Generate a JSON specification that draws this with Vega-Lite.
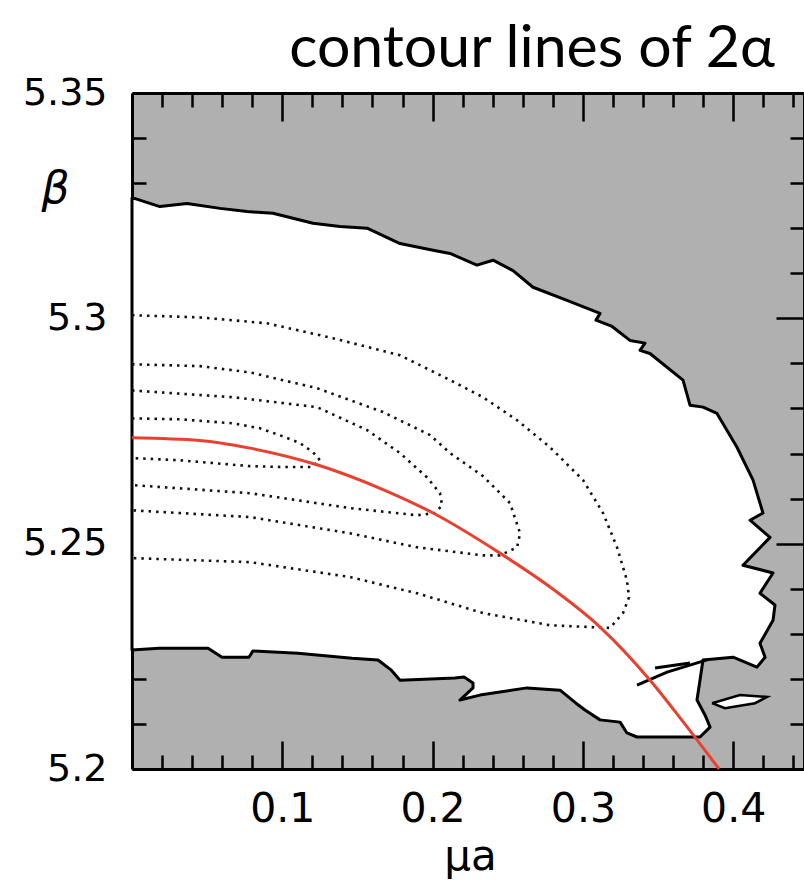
{
  "$schema": "https://vega.github.io/schema/vega-lite/v6.json",
  "width": 672,
  "height": 676,
  "autosize": {"type": "none"},
  "padding": {"left": 132, "top": 93, "right": 0, "bottom": 111},
  "background": "white",
  "view": {"fill": "#b0b0b0", "stroke": null},
  "title": {
    "text": "contour lines of 2α",
    "font": "Lato",
    "fontSize": 59,
    "fontWeight": "normal",
    "color": "black",
    "anchor": "end",
    "frame": "group",
    "baseline": "alphabetic",
    "offset": 27,
    "dx": -29,
    "dy": 79
  },
  "datasets": {
    "blob": [
      {"i": 1, "x": 0, "y": 5.3268}, {"i": 2, "x": 0.0186, "y": 5.3248}, {"i": 3, "x": 0.0366, "y": 5.3255},
      {"i": 4, "x": 0.0586, "y": 5.3244}, {"i": 5, "x": 0.0765, "y": 5.3237}, {"i": 6, "x": 0.0938, "y": 5.3233},
      {"i": 7, "x": 0.1204, "y": 5.3211}, {"i": 8, "x": 0.1384, "y": 5.3204}, {"i": 9, "x": 0.1564, "y": 5.32},
      {"i": 10, "x": 0.1783, "y": 5.3166}, {"i": 11, "x": 0.2003, "y": 5.3151}, {"i": 12, "x": 0.2116, "y": 5.3144},
      {"i": 13, "x": 0.2295, "y": 5.3118}, {"i": 14, "x": 0.2402, "y": 5.3129}, {"i": 15, "x": 0.2535, "y": 5.3106},
      {"i": 16, "x": 0.2668, "y": 5.3069}, {"i": 17, "x": 0.2894, "y": 5.304}, {"i": 18, "x": 0.3114, "y": 5.3011},
      {"i": 19, "x": 0.3087, "y": 5.2996}, {"i": 20, "x": 0.3194, "y": 5.2982}, {"i": 21, "x": 0.3313, "y": 5.2951},
      {"i": 22, "x": 0.3413, "y": 5.2945}, {"i": 23, "x": 0.338, "y": 5.2929}, {"i": 24, "x": 0.3446, "y": 5.2922},
      {"i": 25, "x": 0.3666, "y": 5.2863}, {"i": 26, "x": 0.3713, "y": 5.2807}, {"i": 27, "x": 0.3799, "y": 5.2803},
      {"i": 28, "x": 0.3892, "y": 5.2789}, {"i": 29, "x": 0.4025, "y": 5.2714}, {"i": 30, "x": 0.4132, "y": 5.2641},
      {"i": 31, "x": 0.4198, "y": 5.2568}, {"i": 32, "x": 0.4112, "y": 5.2552}, {"i": 33, "x": 0.4245, "y": 5.2514},
      {"i": 34, "x": 0.4065, "y": 5.2452}, {"i": 35, "x": 0.4265, "y": 5.2435}, {"i": 36, "x": 0.4178, "y": 5.239},
      {"i": 37, "x": 0.4278, "y": 5.2364}, {"i": 38, "x": 0.4265, "y": 5.233}, {"i": 39, "x": 0.4178, "y": 5.2279},
      {"i": 40, "x": 0.4212, "y": 5.2248}, {"i": 41, "x": 0.4158, "y": 5.2226}, {"i": 42, "x": 0.3999, "y": 5.2248},
      {"i": 43, "x": 0.3799, "y": 5.2242}, {"i": 44, "x": 0.3779, "y": 5.2197}, {"i": 45, "x": 0.3759, "y": 5.2153},
      {"i": 46, "x": 0.3812, "y": 5.212}, {"i": 47, "x": 0.3846, "y": 5.2093}, {"i": 48, "x": 0.3779, "y": 5.2071},
      {"i": 49, "x": 0.336, "y": 5.2071}, {"i": 50, "x": 0.3293, "y": 5.208}, {"i": 51, "x": 0.3247, "y": 5.2104},
      {"i": 52, "x": 0.3114, "y": 5.2109}, {"i": 53, "x": 0.3014, "y": 5.2131}, {"i": 54, "x": 0.2954, "y": 5.2146},
      {"i": 55, "x": 0.2848, "y": 5.2175}, {"i": 56, "x": 0.2628, "y": 5.218}, {"i": 57, "x": 0.2315, "y": 5.2164},
      {"i": 58, "x": 0.2182, "y": 5.2153}, {"i": 59, "x": 0.2269, "y": 5.218}, {"i": 60, "x": 0.2269, "y": 5.2191},
      {"i": 61, "x": 0.2209, "y": 5.2204}, {"i": 62, "x": 0.2149, "y": 5.2202}, {"i": 63, "x": 0.1783, "y": 5.2197},
      {"i": 64, "x": 0.1723, "y": 5.222}, {"i": 65, "x": 0.1637, "y": 5.2242}, {"i": 66, "x": 0.1464, "y": 5.2246},
      {"i": 67, "x": 0.1104, "y": 5.2257}, {"i": 68, "x": 0.0805, "y": 5.2262}, {"i": 69, "x": 0.0778, "y": 5.2248},
      {"i": 70, "x": 0.0599, "y": 5.2248}, {"i": 71, "x": 0.0506, "y": 5.2268}, {"i": 72, "x": 0.018, "y": 5.2268},
      {"i": 73, "x": 0, "y": 5.2264}, {"i": 74, "x": 0, "y": 5.3268}
    ],
    "island": [
      {"i": 1, "x": 0.3859, "y": 5.2146}, {"i": 2, "x": 0.4045, "y": 5.2164}, {"i": 3, "x": 0.4225, "y": 5.216},
      {"i": 4, "x": 0.4145, "y": 5.2146}, {"i": 5, "x": 0.3945, "y": 5.2135}, {"i": 6, "x": 0.3859, "y": 5.2146}
    ],
    "frag": [
      {"f": "F1", "i": 1, "x": 0.336, "y": 5.2186}, {"f": "F1", "i": 2, "x": 0.356, "y": 5.2215}, {"f": "F1", "i": 3, "x": 0.3826, "y": 5.2242},
      {"f": "F2", "i": 1, "x": 0.348, "y": 5.2224}, {"f": "F2", "i": 2, "x": 0.3713, "y": 5.2235}
    ],
    "contours": [
      {"c": "A", "i": 1, "x": 0, "y": 5.3007}, {"c": "A", "i": 2, "x": 0.0452, "y": 5.3002}, {"c": "A", "i": 3, "x": 0.0898, "y": 5.2989},
      {"c": "A", "i": 4, "x": 0.1337, "y": 5.2956}, {"c": "A", "i": 5, "x": 0.1783, "y": 5.2918}, {"c": "A", "i": 6, "x": 0.2116, "y": 5.2863},
      {"c": "A", "i": 7, "x": 0.2335, "y": 5.2825}, {"c": "A", "i": 8, "x": 0.2562, "y": 5.2774}, {"c": "A", "i": 9, "x": 0.2781, "y": 5.2714},
      {"c": "A", "i": 10, "x": 0.3001, "y": 5.2641}, {"c": "A", "i": 11, "x": 0.3134, "y": 5.2568}, {"c": "A", "i": 12, "x": 0.3227, "y": 5.2492},
      {"c": "A", "i": 13, "x": 0.3293, "y": 5.2419}, {"c": "A", "i": 14, "x": 0.3307, "y": 5.2381}, {"c": "A", "i": 15, "x": 0.3267, "y": 5.2346},
      {"c": "A", "i": 16, "x": 0.318, "y": 5.2313}, {"c": "A", "i": 17, "x": 0.2781, "y": 5.2319}, {"c": "A", "i": 18, "x": 0.2335, "y": 5.2346},
      {"c": "A", "i": 19, "x": 0.1896, "y": 5.239}, {"c": "A", "i": 20, "x": 0.145, "y": 5.2426}, {"c": "A", "i": 21, "x": 0.0785, "y": 5.2459},
      {"c": "A", "i": 22, "x": 0, "y": 5.2468},
      {"c": "B", "i": 1, "x": 0, "y": 5.2898}, {"c": "B", "i": 2, "x": 0.0452, "y": 5.2894}, {"c": "B", "i": 3, "x": 0.0785, "y": 5.288},
      {"c": "B", "i": 4, "x": 0.1231, "y": 5.2845}, {"c": "B", "i": 5, "x": 0.167, "y": 5.2792}, {"c": "B", "i": 6, "x": 0.1983, "y": 5.2741},
      {"c": "B", "i": 7, "x": 0.2116, "y": 5.2701}, {"c": "B", "i": 8, "x": 0.2335, "y": 5.265}, {"c": "B", "i": 9, "x": 0.2515, "y": 5.259},
      {"c": "B", "i": 10, "x": 0.2582, "y": 5.2523}, {"c": "B", "i": 11, "x": 0.2562, "y": 5.2492}, {"c": "B", "i": 12, "x": 0.2448, "y": 5.2474},
      {"c": "B", "i": 13, "x": 0.2335, "y": 5.2474}, {"c": "B", "i": 14, "x": 0.1896, "y": 5.2492}, {"c": "B", "i": 15, "x": 0.145, "y": 5.2523},
      {"c": "B", "i": 16, "x": 0.0785, "y": 5.2559}, {"c": "B", "i": 17, "x": 0, "y": 5.2574},
      {"c": "C", "i": 1, "x": 0, "y": 5.284}, {"c": "C", "i": 2, "x": 0.0672, "y": 5.2825}, {"c": "C", "i": 3, "x": 0.1231, "y": 5.2803},
      {"c": "C", "i": 4, "x": 0.1564, "y": 5.2752}, {"c": "C", "i": 5, "x": 0.1783, "y": 5.2701}, {"c": "C", "i": 6, "x": 0.1963, "y": 5.2647},
      {"c": "C", "i": 7, "x": 0.2049, "y": 5.2612}, {"c": "C", "i": 8, "x": 0.2063, "y": 5.2585}, {"c": "C", "i": 9, "x": 0.2016, "y": 5.2568},
      {"c": "C", "i": 10, "x": 0.1896, "y": 5.2563}, {"c": "C", "i": 11, "x": 0.145, "y": 5.2579}, {"c": "C", "i": 12, "x": 0.0785, "y": 5.2612},
      {"c": "C", "i": 13, "x": 0, "y": 5.263},
      {"c": "D", "i": 1, "x": 0, "y": 5.2778}, {"c": "D", "i": 2, "x": 0.0319, "y": 5.2776}, {"c": "D", "i": 3, "x": 0.0672, "y": 5.2767},
      {"c": "D", "i": 4, "x": 0.0852, "y": 5.2756}, {"c": "D", "i": 5, "x": 0.1005, "y": 5.2738}, {"c": "D", "i": 6, "x": 0.1118, "y": 5.2723},
      {"c": "D", "i": 7, "x": 0.1204, "y": 5.2703}, {"c": "D", "i": 8, "x": 0.1251, "y": 5.2685}, {"c": "D", "i": 9, "x": 0.1198, "y": 5.267},
      {"c": "D", "i": 10, "x": 0.1005, "y": 5.267}, {"c": "D", "i": 11, "x": 0.0785, "y": 5.2672}, {"c": "D", "i": 12, "x": 0.0319, "y": 5.2685},
      {"c": "D", "i": 13, "x": 0, "y": 5.269}
    ],
    "red": [
      {"x": 0, "y": 5.2735}, {"x": 0.0452, "y": 5.2729}, {"x": 0.0785, "y": 5.2712}, {"x": 0.1231, "y": 5.2675},
      {"x": 0.167, "y": 5.262}, {"x": 0.2003, "y": 5.2568}, {"x": 0.2448, "y": 5.2479}, {"x": 0.2781, "y": 5.2404},
      {"x": 0.3114, "y": 5.2315}, {"x": 0.3447, "y": 5.2197}, {"x": 0.3666, "y": 5.2105}, {"x": 0.3906, "y": 5.2}
    ]
  },
  "resolve": {"axis": {"x": "independent", "y": "independent"}},
  "layer": [
    {
      "data": {"name": "blob"},
      "mark": {"type": "line", "fill": "white", "stroke": "black", "strokeWidth": 3, "strokeJoin": "round"},
      "encoding": {
        "x": {"field": "x", "type": "quantitative", "scale": {"domain": [0, 0.4471], "nice": false, "zero": false},
          "axis": {"orient": "bottom", "grid": false,
            "values": [0.02, 0.04, 0.06, 0.08, 0.1, 0.12, 0.14, 0.16, 0.18, 0.2, 0.22, 0.24, 0.26, 0.28, 0.3, 0.32, 0.34, 0.36, 0.38, 0.4, 0.42, 0.44],
            "labelExpr": "indexof([0.1,0.2,0.3,0.4], datum.value) >= 0 ? format(datum.value, '.1f') : ''",
            "tickSize": {"condition": {"test": "indexof([0.1,0.2,0.3,0.4], datum.value) >= 0", "value": -28}, "value": -14},
            "tickColor": "black", "tickWidth": 2.5, "domainColor": "black", "domainWidth": 3,
            "labelFont": "DejaVu Sans", "labelFontSize": 41, "labelColor": "black", "labelPadding": 48,
            "labelFlush": false, "labelOverlap": false,
            "title": "μa", "titleFont": "DejaVu Sans", "titleFontSize": 42, "titleFontWeight": "normal", "titleColor": "black",
            "titleX": 338, "titleY": 100, "titleBaseline": "alphabetic", "titleAlign": "center"}},
        "y": {"field": "y", "type": "quantitative", "scale": {"domain": [5.2, 5.35], "nice": false, "zero": false},
          "axis": {"orient": "left", "grid": false,
            "values": [5.2, 5.21, 5.22, 5.23, 5.24, 5.25, 5.26, 5.27, 5.28, 5.29, 5.3, 5.31, 5.32, 5.33, 5.34, 5.35],
            "labelExpr": "indexof([5.2,5.25,5.3,5.35], datum.value) >= 0 ? format(datum.value, '~g') : ''",
            "tickSize": {"condition": {"test": "indexof([5.2,5.25,5.3,5.35], datum.value) >= 0", "value": -28}, "value": -14},
            "tickColor": "black", "tickWidth": 2.5, "domainColor": "black", "domainWidth": 3,
            "labelFont": "DejaVu Sans", "labelFontSize": 38, "labelColor": "black", "labelPadding": 53,
            "labelFlush": false, "labelOverlap": false,
            "title": "β", "titleFont": "DejaVu Sans", "titleFontSize": 44, "titleFontStyle": "italic", "titleFontWeight": "normal", "titleColor": "black",
            "titleAngle": 0, "titleX": -77, "titleY": 96, "titleBaseline": "middle", "titleAlign": "center"}},
        "order": {"field": "i", "type": "quantitative"}
      }
    },
    {
      "data": {"name": "island"},
      "mark": {"type": "line", "fill": "white", "stroke": "black", "strokeWidth": 2.5},
      "encoding": {
        "x": {"field": "x", "type": "quantitative", "axis": null},
        "y": {"field": "y", "type": "quantitative", "axis": null},
        "order": {"field": "i", "type": "quantitative"}
      }
    },
    {
      "data": {"name": "frag"},
      "mark": {"type": "line", "color": "black", "strokeWidth": 3},
      "encoding": {
        "x": {"field": "x", "type": "quantitative", "axis": null},
        "y": {"field": "y", "type": "quantitative", "axis": null},
        "detail": {"field": "f"},
        "order": {"field": "i", "type": "quantitative"}
      }
    },
    {
      "data": {"name": "contours"},
      "mark": {"type": "line", "color": "#111111", "strokeWidth": 2.6, "strokeDash": [2.5, 5], "interpolate": "linear"},
      "encoding": {
        "x": {"field": "x", "type": "quantitative", "axis": null},
        "y": {"field": "y", "type": "quantitative", "axis": null},
        "detail": {"field": "c"},
        "order": {"field": "i", "type": "quantitative"}
      }
    },
    {
      "data": {"name": "red"},
      "mark": {"type": "line", "color": "#e8412f", "strokeWidth": 3, "interpolate": "monotone"},
      "encoding": {
        "x": {"field": "x", "type": "quantitative",
          "axis": {"orient": "top", "grid": false, "labels": false, "title": null,
            "values": [0.02, 0.04, 0.06, 0.08, 0.1, 0.12, 0.14, 0.16, 0.18, 0.2, 0.22, 0.24, 0.26, 0.28, 0.3, 0.32, 0.34, 0.36, 0.38, 0.4, 0.42, 0.44],
            "tickSize": {"condition": {"test": "indexof([0.1,0.2,0.3,0.4], datum.value) >= 0", "value": -28}, "value": -14},
            "tickColor": "black", "tickWidth": 2.5, "domainColor": "black", "domainWidth": 3}},
        "y": {"field": "y", "type": "quantitative",
          "axis": {"orient": "right", "grid": false, "labels": false, "title": null,
            "values": [5.21, 5.22, 5.23, 5.24, 5.25, 5.26, 5.27, 5.28, 5.29, 5.3, 5.31, 5.32, 5.33, 5.34],
            "tickSize": {"condition": {"test": "indexof([5.25,5.3], datum.value) >= 0", "value": -28}, "value": -14},
            "tickColor": "black", "tickWidth": 2.5, "domainColor": "black", "domainWidth": 3}}
      }
    }
  ]
}
